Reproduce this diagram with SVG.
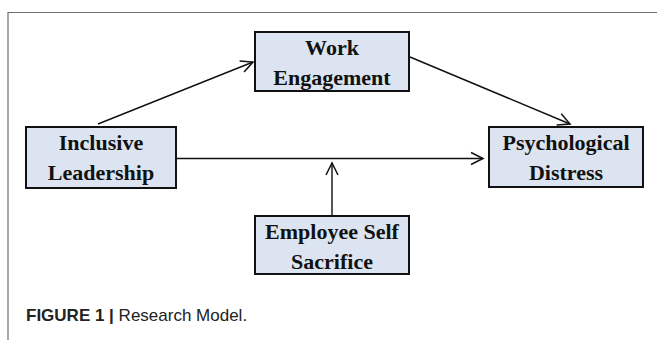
<svg xmlns="http://www.w3.org/2000/svg" width="657" height="340" viewBox="0 0 657 340">
  <defs>
    <marker id="arr" markerUnits="userSpaceOnUse" markerWidth="16" markerHeight="16" viewBox="-14 -8 16 16" refX="0" refY="0" orient="auto">
      <path d="M-12,-6 L0,0 L-12,6" fill="none" stroke="#111" stroke-width="1.5" stroke-linejoin="miter"/>
    </marker>
  </defs>
  <style>
    .box { fill: #dbe4f0; stroke: #111; stroke-width: 2; }
    .lbl { font-family: "Liberation Serif", "Times New Roman", serif; font-weight: bold; font-size: 22px; fill: #111; text-anchor: middle; }
    .conn { stroke: #111; stroke-width: 1.4; fill: none; marker-end: url(#arr); }
    .cap { font-family: "Liberation Sans", Arial, sans-serif; font-size: 17px; fill: #222; }
  </style>
  <rect width="657" height="340" fill="#ffffff"/>
  <path d="M8,340 L8,12.5 L657,12.5" fill="none" stroke="#6e6e6e" stroke-width="1.2"/>

  <g id="connectors">
    <line class="conn" x1="98" y1="124" x2="253" y2="62"/>
    <line class="conn" x1="410" y1="57" x2="570" y2="124"/>
    <line class="conn" x1="176" y1="158.5" x2="483" y2="158.5"/>
    <line class="conn" x1="332" y1="216" x2="332" y2="163"/>
  </g>

  <g id="work-engagement">
    <rect class="box" x="255" y="32" width="154" height="59"/>
    <text class="lbl" x="332" y="55">Work</text>
    <text class="lbl" x="332" y="85">Engagement</text>
  </g>

  <g id="inclusive-leadership">
    <rect class="box" x="26" y="127" width="150" height="61"/>
    <text class="lbl" x="101" y="150">Inclusive</text>
    <text class="lbl" x="101" y="180">Leadership</text>
  </g>

  <g id="psychological-distress">
    <rect class="box" x="489" y="127" width="154" height="60"/>
    <text class="lbl" x="566" y="150">Psychological</text>
    <text class="lbl" x="566" y="180">Distress</text>
  </g>

  <g id="employee-self-sacrifice">
    <rect class="box" x="255" y="216" width="154" height="58"/>
    <text class="lbl" x="332" y="239">Employee Self</text>
    <text class="lbl" x="332" y="269">Sacrifice</text>
  </g>

  <text class="cap" x="26" y="321"><tspan font-weight="bold">FIGURE 1 | </tspan>Research Model.</text>
</svg>
